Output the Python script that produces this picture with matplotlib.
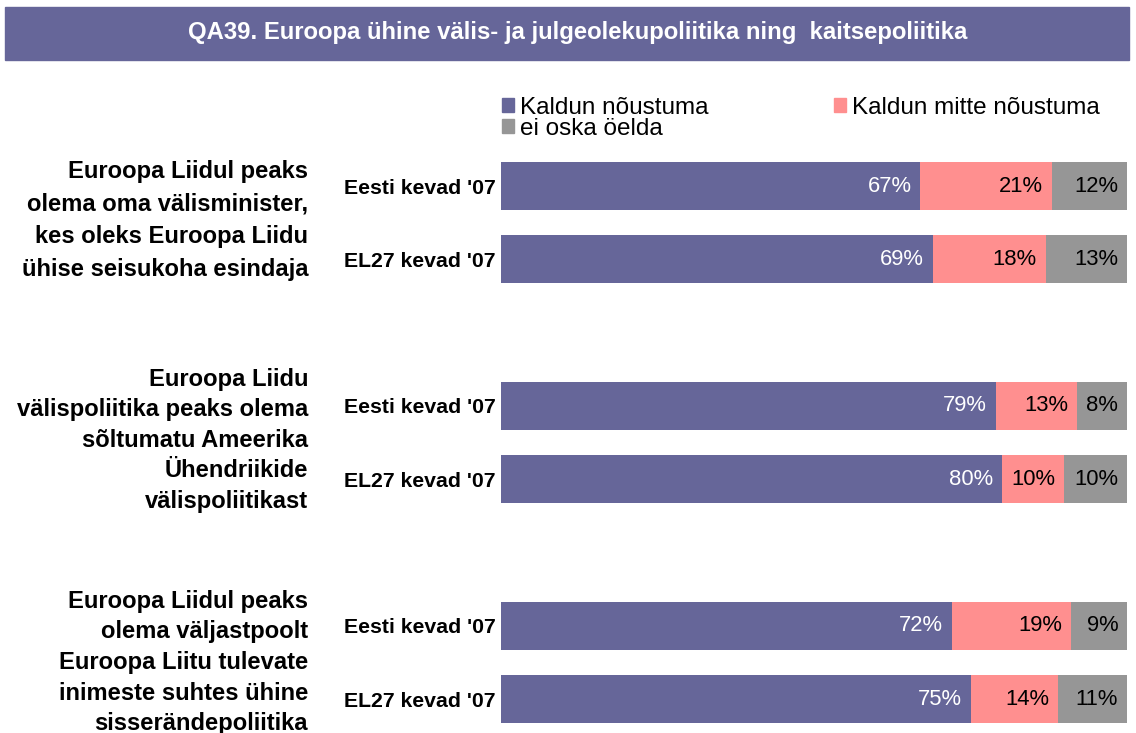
import matplotlib.pyplot as plt
from matplotlib.patches import Rectangle, Patch
from matplotlib.transforms import blended_transform_factory

plt.rcParams['font.family'] = ['Liberation Sans', 'DejaVu Sans']

title = "QA39. Euroopa ühine välis- ja julgeolekupoliitika ning  kaitsepoliitika"
questions = [
    "Euroopa Liidul peaks\nolema oma välisminister,\nkes oleks Euroopa Liidu\nühise seisukoha esindaja",
    "Euroopa Liidu\nvälispoliitika peaks olema\nsõltumatu Ameerika\nÜhendriikide\nvälispoliitikast",
    "Euroopa Liidul peaks\nolema väljastpoolt\nEuroopa Liitu tulevate\ninimeste suhtes ühine\nsisserändepoliitika",
]
row_labels = ["Eesti kevad '07", "EL27 kevad '07"] * 3
series = ["Kaldun nõustuma", "Kaldun mitte nõustuma", "ei oska öelda"]
agree = [67, 69, 79, 80, 72, 75]
disagree = [21, 18, 13, 10, 19, 14]
dontknow = [12, 13, 8, 10, 9, 11]

colors = ["#666699", "#FF8F8F", "#969696"]
text_colors = ["white", "black", "black"]

W, H = 1136, 733
fig = plt.figure(figsize=(W / 100, H / 100), dpi=100)

# title bar
fig.patches.append(Rectangle((5 / W, 1 - 60 / H), 1124 / W, 53 / H,
                             transform=fig.transFigure, color=colors[0], zorder=0))
fig.text(578 / W, 1 - 33 / H, title, color="white", fontsize=17.2,
         fontweight="bold", ha="center", va="center")

# axes placement in pixels
unit = 73.3
top_px = 186 - 0.5 * unit
ax = fig.add_axes([501 / W, 0, 626 / W, (H - top_px) / H])
ypos = [0, 1, 3, 4, 6, 7]

left = [0] * 6
for vals, col, tcol, name in zip([agree, disagree, dontknow], colors, text_colors, series):
    ax.barh(ypos, vals, left=left, height=0.66, color=col, label=name)
    for y, v, l in zip(ypos, vals, left):
        ax.text(l + v - 1.4, y, f"{v}%", ha="right", va="center",
                color=tcol, fontsize=15.8)
    left = [a + b for a, b in zip(left, vals)]

ax.set_xlim(0, 100)
ax.set_ylim((H - 186) / unit, -0.5)
ax.set_yticks(ypos)
ax.set_yticklabels(row_labels, fontsize=15.3, fontweight="bold")
ax.tick_params(axis="y", length=0, pad=4)
ax.set_xticks([])
for s in ax.spines.values():
    s.set_visible(False)

# question labels
tr = blended_transform_factory(fig.transFigure, ax.transData)
for q, yc, ls in zip(questions, [0.47, 3.47, 6.5], [1.55, 1.42, 1.42]):
    ax.text(308 / W, yc, q, transform=tr, ha="right", va="center",
            fontsize=17.1, fontweight="bold", linespacing=ls, clip_on=False)

# legend: first column nõustuma + ei oska, second column mitte nõustuma
h = [Patch(color=c) for c in colors]
fig.legend([h[0], h[2], h[1]], [series[0], series[2], series[1]], ncol=2,
           loc="upper left", bbox_to_anchor=(502 / W, 1 - 97 / H),
           frameon=False, fontsize=17.5, handlelength=0.5, handleheight=0.5,
           handletextpad=0.25, labelspacing=-0.05, columnspacing=5.15,
           borderpad=0, borderaxespad=0)

fig.savefig("out.png", dpi=100)
